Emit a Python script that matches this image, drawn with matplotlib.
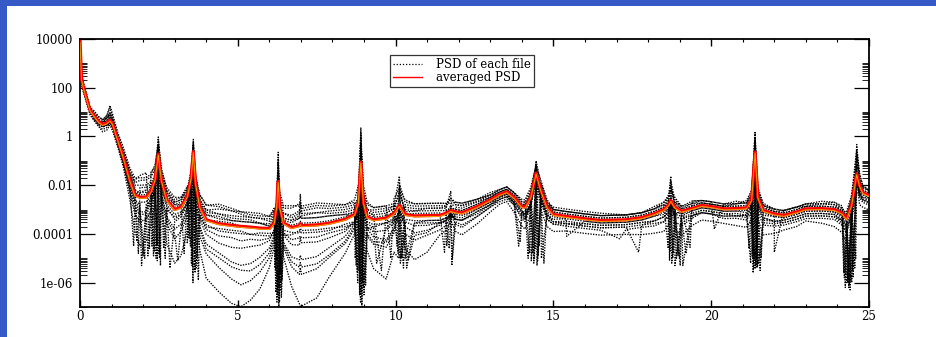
import matplotlib
matplotlib.use("Agg")
import matplotlib.pyplot as plt
import matplotlib.transforms as mtransforms
from matplotlib.lines import Line2D
from matplotlib.patches import Rectangle
from matplotlib.ticker import NullFormatter

# ---------------- data ----------------
freq = [0.00, 0.05, 0.10, 0.20, 0.32, 0.45, 0.60, 0.72, 0.85, 0.95,
        1.03, 1.20, 1.37, 1.58, 1.74, 1.90, 2.10, 2.25, 2.38, 2.48,
        2.58, 2.75, 3.00, 3.20, 3.40, 3.52, 3.59, 3.66, 3.80, 4.00,
        4.40, 4.80, 5.10, 5.40, 5.70, 6.00, 6.15, 6.23, 6.28, 6.33,
        6.45, 6.70, 6.95, 6.98, 7.02, 7.50, 7.90, 8.40, 8.70, 8.82,
        8.90, 8.98, 9.10, 9.30, 9.70, 9.95, 10.12, 10.30, 10.60, 11.00,
        11.40, 11.60, 11.75, 11.90, 12.10, 12.60, 13.00, 13.30, 13.52, 13.75,
        14.00, 14.10, 14.28, 14.45, 14.60, 14.80, 15.00, 15.40, 16.00, 16.50,
        17.30, 17.80, 18.20, 18.50, 18.65, 18.72, 18.85, 19.06, 19.40, 19.70,
        20.00, 20.40, 20.80, 21.12, 21.28, 21.39, 21.48, 21.65, 22.00, 22.30,
        22.70, 23.00, 23.50, 23.90, 24.15, 24.29, 24.45, 24.61, 24.70, 24.80, 25.00]

# averaged PSD, log10 values
avg_log10 = [3.90, 2.35, 2.07, 1.60, 1.08, 0.85, 0.60, 0.49, 0.56, 0.67,
             0.53, -0.15, -0.84, -1.80, -2.40, -2.50, -2.49, -2.25, -1.75, -0.72,
             -1.80, -2.60, -3.00, -2.90, -2.45, -1.70, -0.62, -1.90, -2.90, -3.42,
             -3.58, -3.65, -3.69, -3.72, -3.76, -3.78, -3.55, -2.90, -1.85, -2.90,
             -3.55, -3.74, -3.66, -3.58, -3.66, -3.63, -3.56, -3.40, -3.20, -2.70,
             -1.05, -2.70, -3.30, -3.42, -3.35, -3.15, -2.83, -3.20, -3.26, -3.25,
             -3.24, -3.15, -3.04, -3.10, -3.14, -2.87, -2.60, -2.38, -2.27, -2.50,
             -2.88, -2.90, -2.50, -1.50, -2.20, -2.90, -3.20, -3.28, -3.38, -3.45,
             -3.42, -3.33, -3.17, -3.00, -2.80, -2.63, -2.90, -3.07, -2.95, -2.83,
             -2.88, -2.97, -2.96, -2.93, -2.60, -0.64, -2.50, -3.04, -3.18, -3.24,
             -3.10, -2.97, -2.96, -3.00, -3.15, -3.38, -2.80, -1.53, -2.00, -2.30, -2.42]

# each file: deviation from the averaged PSD at the same frequencies (tenths of a decade)
file01_dev = [2, 2, 2, 2, 1, 1, 2, 2, 3, 5,
              3, 2, 3, 4, 6, 9, 10, 8, 5, 6,
              4, 5, 5, 4, 4, 3, 4, 3, 5, 6,
              8, 7, 6, 6, 6, 5, 5, 3, 8, 3,
              6, 8, 9, 9, 8, 9, 8, 6, 5, 3,
              12, 4, 5, 5, 5, 4, 9, 5, 5, 5,
              5, 4, 3, 4, 4, 3, 2, 2, 2, 2,
              2, 2, 3, 5, 3, 2, 3, 3, 3, 3,
              2, 2, 3, 3, 3, 8, 3, 2, 3, 2,
              2, 2, 3, 2, 3, 7, 3, 2, 2, 2,
              2, 2, 3, 3, 2, 2, 4, 10, 5, 3, 2]
file02_dev = [1, 1, 1, 1, 1, 0, 1, 1, 2, 3,
              2, 1, 2, 3, 5, 7, 7, 6, 4, 7,
              2, 3, 3, 3, 2, 2, 5, 2, 3, 4,
              6, 6, 5, 4, 4, 4, 4, 2, 12, 2,
              4, 5, 6, 8, 6, 7, 6, 5, 4, 2,
              14, 3, 3, 4, 4, 3, 12, 4, 4, 4,
              4, 3, 5, 3, 3, 3, 2, 1, 1, 1,
              1, 1, 2, 3, 2, 1, 2, 2, 2, 2,
              2, 2, 2, 2, 3, 10, 2, 1, 2, 1,
              1, 1, 2, 2, 2, 8, 2, 2, 1, 2,
              2, 1, 2, 2, 1, 1, 3, 12, 4, 2, 2]
file03_dev = [0, 0, 0, 1, 0, 0, 0, 1, 1, 2,
              1, 0, 1, 2, 3, 4, 4, 3, 2, 3,
              1, 2, 2, 2, 1, 1, 2, 1, 2, 3,
              4, 3, 3, 3, 2, 2, 2, 1, 4, 1,
              2, 3, 4, 12, 4, 5, 4, 3, 2, 1,
              5, 1, 2, 2, 2, 2, 5, 2, 2, 3,
              3, 2, 8, 2, 2, 2, 1, 1, 1, 0,
              0, 1, 1, 2, 1, 1, 1, 1, 1, 1,
              1, 1, 1, 1, 2, 5, 1, 0, 1, 1,
              1, 1, 1, 1, 2, 5, 1, 1, 1, 1,
              1, 1, 1, 1, 1, 0, 2, 7, 2, 1, 1]
file04_dev = [0, -1, -1, 0, 0, -1, -1, 0, 0, 1,
              0, -1, 0, 1, 1, 2, 2, 1, 0, -3,
              -2, 0, 1, 1, 0, -3, -8, -2, 1, 2,
              3, 2, 2, 2, 2, 1, 0, -5, -10, -3,
              1, 2, 3, 3, 3, 3, 3, 2, -1, -6,
              -12, -5, 1, 1, 1, 0, -8, 0, 1, 1,
              1, 1, -3, 1, 1, 1, 1, 0, 0, -1,
              -1, -5, -2, -3, -4, 0, 0, 0, 0, 0,
              0, 0, 0, 0, -2, -6, -3, 0, 0, 0,
              0, 0, 0, 0, -3, -10, -4, 0, 0, 0,
              0, 0, 0, 0, -1, -2, -6, -8, -3, 0, 0]
file05_dev = [-1, -1, -1, -1, -1, -1, -1, -1, -1, 0,
              -1, -1, -1, -1, -2, -3, -3, -4, -5, 0,
              -4, -4, -3, -3, -5, -4, 2, -5, -4, -3,
              -2, -2, -2, -3, -3, -3, -5, -3, 3, -4,
              -5, -3, -2, -2, -2, -2, -2, -3, -4, -3,
              3, -4, -5, -3, -2, -2, 3, -4, -3, -2,
              -2, -2, -1, -2, -2, -1, -1, -1, -1, -2,
              -2, -3, -3, 1, -3, -3, -2, -1, -1, -1,
              -1, -1, -1, -2, -2, 2, -3, -2, -1, -1,
              -1, -1, -1, -2, -2, 2, -3, -2, -1, -1,
              -1, -1, -1, -1, -2, -3, -2, 3, -3, -2, -1]
file06_dev = [-1, -2, -2, -1, -1, -2, -2, -2, -2, -1,
              -2, -2, -3, -5, -8, -10, -9, -8, -6, -2,
              -8, -10, -12, -10, -8, -6, -1, -8, -12, -14,
              -18, -22, -24, -22, -18, -12, -8, -5, 0, -6,
              -10, -16, -20, -18, -20, -18, -14, -10, -6, -4,
              1, -5, -8, -10, -12, -8, -2, -8, -10, -8,
              -6, -5, -2, -5, -6, -4, -3, -3, -3, -3,
              -5, -6, -4, -1, -5, -5, -4, -4, -4, -4,
              -4, -4, -5, -5, -5, -1, -6, -6, -4, -3,
              -3, -4, -4, -5, -5, -1, -6, -6, -5, -4,
              -4, -4, -4, -4, -5, -6, -4, -1, -5, -4, -4]
file07_dev = [-2, -2, -2, -2, -2, -2, -2, -3, -3, -2,
              -3, -3, -4, -8, -15, -20, -18, -14, -10, -4,
              -10, -18, -22, -20, -14, -10, -3, -12, -18, -24,
              -28, -32, -33, -30, -25, -16, -10, -6, -2, -8,
              -14, -24, -32, -34, -33, -30, -22, -14, -8, -6,
              -2, -8, -14, -20, -25, -16, -4, -14, -18, -15,
              -8, -7, -4, -8, -9, -7, -5, -4, -4, -6,
              -8, -9, -7, -2, -8, -8, -7, -6, -6, -6,
              -6, -7, -8, -9, -8, -2, -9, -10, -7, -6,
              -6, -6, -7, -8, -8, -2, -9, -10, -8, -6,
              -6, -5, -6, -7, -8, -10, -6, -2, -8, -6, -6]
file08_dev = [0, 0, -1, -1, 0, 0, -1, -1, -1, -1,
              -1, -1, -2, -3, -5, -6, -6, -5, -3, -1,
              -5, -7, -8, -7, -5, -4, -2, -6, -8, -10,
              -12, -15, -16, -15, -12, -8, -5, -3, -1, -4,
              -8, -12, -14, -13, -14, -13, -10, -7, -4, -2,
              -1, -3, -5, -7, -9, -6, -1, -5, -7, -6,
              -4, -3, -1, -4, -5, -4, -3, -2, -2, -3,
              -4, -5, -4, 0, -4, -5, -4, -3, -3, -3,
              -3, -3, -4, -5, -4, 0, -5, -5, -3, -3,
              -3, -3, -3, -4, -4, 0, -5, -5, -4, -3,
              -3, -3, -3, -3, -4, -5, -3, 0, -4, -3, -3]
file09_dev = [1, 1, 1, 0, 1, 1, 1, 2, 3, 6,
              4, 3, 4, 5, 7, 8, 8, 7, 6, 4,
              5, 4, 4, 4, 3, 3, 1, 4, 5, 6,
              7, 6, 6, 5, 5, 5, 6, 7, 2, 6,
              7, 9, 8, 7, 7, 8, 7, 6, 6, 7,
              8, 7, 6, 5, 5, 6, 7, 6, 5, 5,
              5, 4, 5, 4, 4, 3, 3, 2, 2, 2,
              3, 3, 4, 3, 4, 3, 2, 2, 2, 2,
              2, 2, 2, 3, 4, 4, 4, 2, 3, 2,
              2, 2, 2, 3, 4, 4, 4, 3, 2, 2,
              2, 2, 2, 3, 3, 3, 4, 4, 4, 3, 2]
file10_dev = [-1, 0, 0, 0, -1, 0, 0, 0, -1, -1,
              -1, -2, -2, -3, -4, -5, -5, -4, -3, -5,
              -3, -3, -5, -4, -3, -2, -5, -3, -5, -6,
              -8, -9, -9, -8, -7, -5, -3, -2, -5, -2,
              -5, -7, -8, -6, -7, -7, -6, -5, -3, -1,
              -3, -2, -4, -5, -5, -4, -4, -3, -4, -4,
              -3, -3, -2, -3, -3, -2, -2, -1, -1, -2,
              -3, -4, -3, -2, -3, -4, -3, -2, -2, -2,
              -2, -2, -3, -3, -3, -3, -4, -3, -2, -2,
              -2, -2, -2, -3, -3, -3, -4, -4, -3, -2,
              -2, -2, -2, -2, -3, -4, -3, -3, -4, -3, -2]
file11_dev = [1, 1, 0, 1, 1, 1, 0, 1, 2, 2,
              1, 1, 1, 2, 2, 2, 3, 2, 1, 2,
              1, 1, 2, 1, 1, 1, 3, 1, 1, 2,
              2, 2, 2, 2, 2, 1, 1, 2, 6, 1,
              2, 3, 3, 3, 3, 3, 3, 2, 1, 2,
              8, 1, 2, 2, 2, 2, 6, 1, 2, 2,
              2, 1, 1, 1, 1, 1, 1, 1, 1, 1,
              1, 1, 1, 3, 1, 1, 1, 1, 1, 1,
              1, 1, 1, 1, 1, 6, 1, 1, 1, 1,
              1, 1, 1, 1, 1, 6, 1, 1, 1, 1,
              1, 1, 1, 1, 1, 1, 1, 8, 2, 1, 1]
file12_dev = [0, 0, -1, 0, 0, -1, 0, 0, 0, 0,
              0, -1, -1, -1, -1, -2, -2, -2, -3, -6,
              -3, -2, -2, -2, -3, -4, -7, -3, -2, -2,
              -3, -3, -3, -3, -2, -2, -4, -6, -7, -5,
              -3, -2, -3, -3, -3, -3, -3, -2, -3, -5,
              -8, -4, -2, -2, -2, -3, -5, -2, -2, -2,
              -2, -2, -3, -1, -1, -1, -1, -1, -1, -1,
              -2, -2, -2, -4, -2, -2, -1, -1, -1, -1,
              -1, -1, -1, -1, -2, -4, -2, -1, -1, -1,
              -1, -1, -1, -1, -2, -7, -2, -1, -1, -1,
              -1, -1, -1, -1, -1, -2, -3, -5, -2, -1, -1]
file13_dev = [0, 1, 1, 0, 0, 0, 0, 0, 1, 1,
              0, 0, 0, 0, 1, 1, 1, 1, 1, 4,
              0, 0, 0, 0, 1, 1, 3, 0, 0, 0,
              1, 1, 0, 0, 0, 0, 0, 1, 9, 0,
              0, 1, 1, 1, 1, 1, 1, 1, 1, 1,
              10, 0, 0, 0, 0, 1, 8, 0, 0, 0,
              0, 0, 2, 0, 0, 0, 0, 0, 0, 0,
              0, 0, 1, 4, 1, 0, 0, 0, 0, 0,
              0, 0, 0, 0, 1, 8, 0, 0, 0, 0,
              0, 0, 0, 0, 1, 8, 0, 0, 0, 0,
              0, 0, 0, 0, 0, 0, 1, 9, 1, 0, 0]
file14_dev = [-1, -1, -1, -1, 0, -1, -1, -1, 0, -1,
              -1, -1, -2, -2, -3, -4, -4, -3, -2, -2,
              -2, -3, -4, -3, -2, -2, -2, -3, -3, -4,
              -5, -5, -6, -5, -5, -4, -3, -3, -2, -3,
              -4, -5, -5, -5, -5, -5, -4, -4, -3, -2,
              -2, -2, -3, -3, -4, -3, -2, -3, -3, -3,
              -3, -3, -2, -3, -3, -3, -2, -2, -2, -2,
              -2, -3, -3, -1, -3, -3, -3, -3, -3, -3,
              -3, -3, -3, -3, -3, -1, -3, -3, -3, -3,
              -3, -3, -3, -3, -3, -1, -3, -3, -3, -3,
              -3, -3, -3, -3, -3, -3, -3, -1, -3, -3, -3]
file15_dev = [1, 1, 1, 1, 1, 2, 2, 2, 2, 3,
              2, 2, 2, 3, 4, 5, 5, 4, 3, 1,
              3, 3, 3, 3, 3, 2, 0, 3, 3, 4,
              4, 4, 4, 4, 4, 3, 3, 3, -3, 3,
              4, 4, 5, 5, 5, 5, 5, 4, 3, 2,
              -2, 3, 3, 3, 3, 3, -1, 3, 3, 3,
              3, 3, 2, 3, 3, 2, 2, 2, 2, 2,
              2, 2, 2, -1, 2, 2, 2, 2, 2, 2,
              2, 2, 2, 2, 2, -2, 2, 2, 2, 2,
              2, 2, 2, 2, 2, -3, 2, 2, 2, 2,
              2, 2, 2, 2, 2, 2, 2, -2, 2, 2, 2]
file16_dev = [-1, -1, -1, -1, -1, -1, -1, -1, -1, -1,
              -1, -2, -2, -4, -6, -7, -7, -6, -4, -1,
              -6, -8, -10, -8, -6, -4, -1, -6, -9, -12,
              -14, -17, -18, -18, -15, -10, -6, -4, -1, -5,
              -9, -14, -17, -16, -17, -16, -13, -9, -5, -3,
              0, -4, -7, -9, -10, -7, -2, -6, -8, -7,
              -3, -3, -1, -3, -3, -2, -2, -2, -2, -2,
              -3, -3, -3, 0, -3, -3, -3, -3, -2, -2,
              -2, -2, -3, -3, -3, 0, -4, -3, -3, -2,
              -2, -2, -3, -3, -3, 0, -4, -3, -3, -2,
              -2, -2, -2, -2, -3, -3, -3, 0, -3, -2, -2]

# deep notches of each file: (frequency, log10 PSD)
file01_notch = [(2.20, -4.6), (3.45, -4.2), (6.20, -5.5), (8.80, -6.0), (10.05, -4.5),
                (14.35, -4.8), (21.32, -5.0), (24.35, -5.5)]
file02_notch = [(2.41, -5.0), (3.53, -5.2), (6.35, -6.3), (8.95, -5.8), (10.20, -5.0),
                (14.55, -4.5), (18.78, -5.0), (21.45, -5.4), (24.50, -5.8)]
file03_notch = [(1.85, -4.8), (2.55, -5.3), (3.65, -5.6), (6.24, -6.8), (8.86, -6.5),
                (9.55, -5.5), (11.78, -5.3), (14.20, -5.0), (18.95, -4.9), (21.20, -4.6),
                (24.25, -6.2)]
file04_notch = [(2.33, -4.9), (3.30, -4.8), (6.40, -5.9), (8.75, -5.3), (9.05, -6.1),
                (11.55, -4.75), (14.70, -5.2), (19.10, -5.3), (21.55, -5.5), (24.20, -5.6)]
file05_notch = [(1.95, -5.3), (2.65, -4.6), (3.75, -5.9), (6.30, -7.2), (8.93, -7.2),
                (10.35, -5.4), (13.95, -4.3), (15.42, -4.1), (18.68, -5.1), (21.42, -5.3),
                (24.40, -6.3)]
file06_notch = [(2.45, -5.1), (3.58, -6.0), (6.26, -6.5), (8.89, -6.8), (10.15, -5.2),
                (14.48, -5.3), (17.10, -4.2), (18.75, -5.2), (21.36, -5.4), (24.58, -5.0)]
file07_notch = [(10.10, -5.0), (14.40, -5.0), (21.40, -5.4), (24.30, -6.0)]
file08_notch = [(1.70, -4.5), (2.50, -4.8), (3.62, -5.5), (6.32, -6.8), (8.92, -6.5),
                (11.80, -5.0), (14.50, -5.1), (17.70, -4.75), (19.02, -5.3), (21.50, -5.2),
                (24.45, -6.0)]
file09_notch = [(3.70, -5.0), (6.22, -5.0), (8.84, -5.5), (9.85, -5.0), (19.33, -4.55),
                (20.10, -3.8), (22.00, -4.75), (24.27, -5.7)]
file10_notch = [(2.05, -5.0), (2.85, -5.4), (3.55, -5.3), (6.37, -6.0), (8.98, -6.2),
                (10.25, -5.4), (14.30, -5.1), (18.85, -5.3), (21.25, -5.2), (24.38, -6.1)]
file11_notch = [(2.44, -4.4), (3.63, -4.8), (6.25, -5.8), (8.87, -5.9), (14.42, -4.6),
                (18.70, -4.7), (21.37, -5.0), (24.55, -5.4)]
file12_notch = [(1.80, -4.3), (2.52, -5.0), (3.56, -5.1), (6.29, -6.2), (8.91, -6.4),
                (10.14, -5.0), (11.70, -4.6), (14.38, -5.2), (18.80, -4.8), (21.33, -5.6),
                (24.33, -6.0)]
file13_notch = [(2.36, -4.7), (3.50, -4.5), (6.34, -5.6), (8.79, -5.6), (10.08, -4.8),
                (14.52, -4.9), (19.00, -5.0), (21.43, -5.0), (24.42, -5.9)]
file14_notch = [(2.00, -4.9), (2.70, -5.0), (3.68, -5.4), (6.21, -6.4), (8.96, -6.0),
                (9.40, -5.2), (10.30, -5.0), (14.62, -5.0), (18.90, -5.0), (21.47, -5.3),
                (24.22, -5.8)]
file15_notch = [(2.28, -4.5), (3.40, -4.4), (6.18, -5.4), (8.72, -5.0), (11.62, -4.5),
                (14.25, -4.8), (18.64, -4.6), (21.30, -4.9), (24.48, -5.5)]
file16_notch = [(2.15, -4.9), (3.10, -5.1), (6.38, -6.6), (9.00, -6.5), (10.40, -5.1),
                (13.90, -4.5), (19.20, -4.8), (21.58, -5.0), (24.36, -6.2)]

files_dev = [file01_dev, file02_dev, file03_dev, file04_dev, file05_dev, file06_dev,
             file07_dev, file08_dev, file09_dev, file10_dev, file11_dev, file12_dev,
             file13_dev, file14_dev, file15_dev, file16_dev]
files_notch = [file01_notch, file02_notch, file03_notch, file04_notch, file05_notch,
               file06_notch, file07_notch, file08_notch, file09_notch, file10_notch,
               file11_notch, file12_notch, file13_notch, file14_notch, file15_notch,
               file16_notch]

ytick_vals = [1e-6, 1e-4, 1e-2, 1, 1e2, 1e4]
ytick_labels = ["1e-06", "0.0001", "0.01", "1", "100", "10000"]
xtick_vals = [0, 5, 10, 15, 20, 25]
xtick_labels = ["0", "5", "10", "15", "20", "25"]
legend_labels = ["PSD of each file", "averaged PSD"]

# ---------------- figure ----------------
plt.rcParams["font.family"] = ["DejaVu Serif"]
W, H = 936, 337
fig = plt.figure(figsize=(W / 100, H / 100), dpi=100, facecolor="white")
blue = "#3559c6"
fig.patches.append(Rectangle((0, 1 - 6 / H), 1, 6 / H, transform=fig.transFigure,
                             facecolor=blue, edgecolor="none", zorder=0))
fig.patches.append(Rectangle((0, 0), 7 / W, 1, transform=fig.transFigure,
                             facecolor=blue, edgecolor="none", zorder=0))

ax = fig.add_axes([80 / W, 1 - 307 / H, (869 - 80) / W, (307 - 39) / H])

for dev, notches in zip(files_dev, files_notch):
    pts = [(f, a + d / 10.0) for f, a, d in zip(freq, avg_log10, dev)] + list(notches)
    pts.sort(key=lambda p: p[0])
    ax.plot([p[0] for p in pts], [10 ** p[1] for p in pts], color="black",
            lw=0.95, linestyle=(0, (1, 1.0)), zorder=2)

avg_vals = [10 ** v for v in avg_log10]
ax.plot(freq, avg_vals, color="#ff0000", lw=2.3, zorder=3, solid_joinstyle="round")
shift = mtransforms.ScaledTranslation(0, -1.0 / 100, fig.dpi_scale_trans)
ax.plot(freq, avg_vals, color="#f0a000", lw=0.7, zorder=4, transform=ax.transData + shift)

ax.set_yscale("log")
ax.set_xlim(0, 25)
ax.set_ylim(1e-7, 1e4)
ax.set_yticks(ytick_vals, ytick_labels)
yminor = [k * 10.0 ** e for e in (-8, -6, -4, -2, 0, 2) for k in range(2, 11)]
ax.set_yticks([v for v in yminor if 1e-7 <= v <= 1e4], minor=True)
ax.yaxis.set_minor_formatter(NullFormatter())
ax.set_xticks(xtick_vals, xtick_labels)
ax.set_xticks(range(0, 26), minor=True)

ax.tick_params(axis="y", which="major", direction="in", length=11, width=0.9,
               left=True, right=True, labelsize=8.5, pad=5)
ax.tick_params(axis="y", which="minor", direction="in", length=5, width=0.6,
               left=True, right=True)
ax.tick_params(axis="x", which="major", direction="in", length=5, width=1.0,
               bottom=True, top=True, labelsize=8.5, pad=2)
ax.tick_params(axis="x", which="minor", direction="in", length=2.5, width=0.8,
               bottom=True, top=True)
for s in ax.spines.values():
    s.set_linewidth(1.3)

handles = [Line2D([], [], color="black", lw=0.9, linestyle=(0, (1, 1.5))),
           Line2D([], [], color="#ff0000", lw=1.0)]
leg = ax.legend(handles, legend_labels, loc="upper center", bbox_to_anchor=(0.484, 0.94),
                fontsize=8.5, frameon=True, fancybox=False, shadow=False,
                handlelength=2.4, handletextpad=1.2, labelspacing=0.0,
                borderpad=0.25, borderaxespad=0)
leg.get_frame().set_edgecolor("black")
leg.get_frame().set_linewidth(0.9)

fig.savefig("out.png", dpi=100, facecolor="white")
